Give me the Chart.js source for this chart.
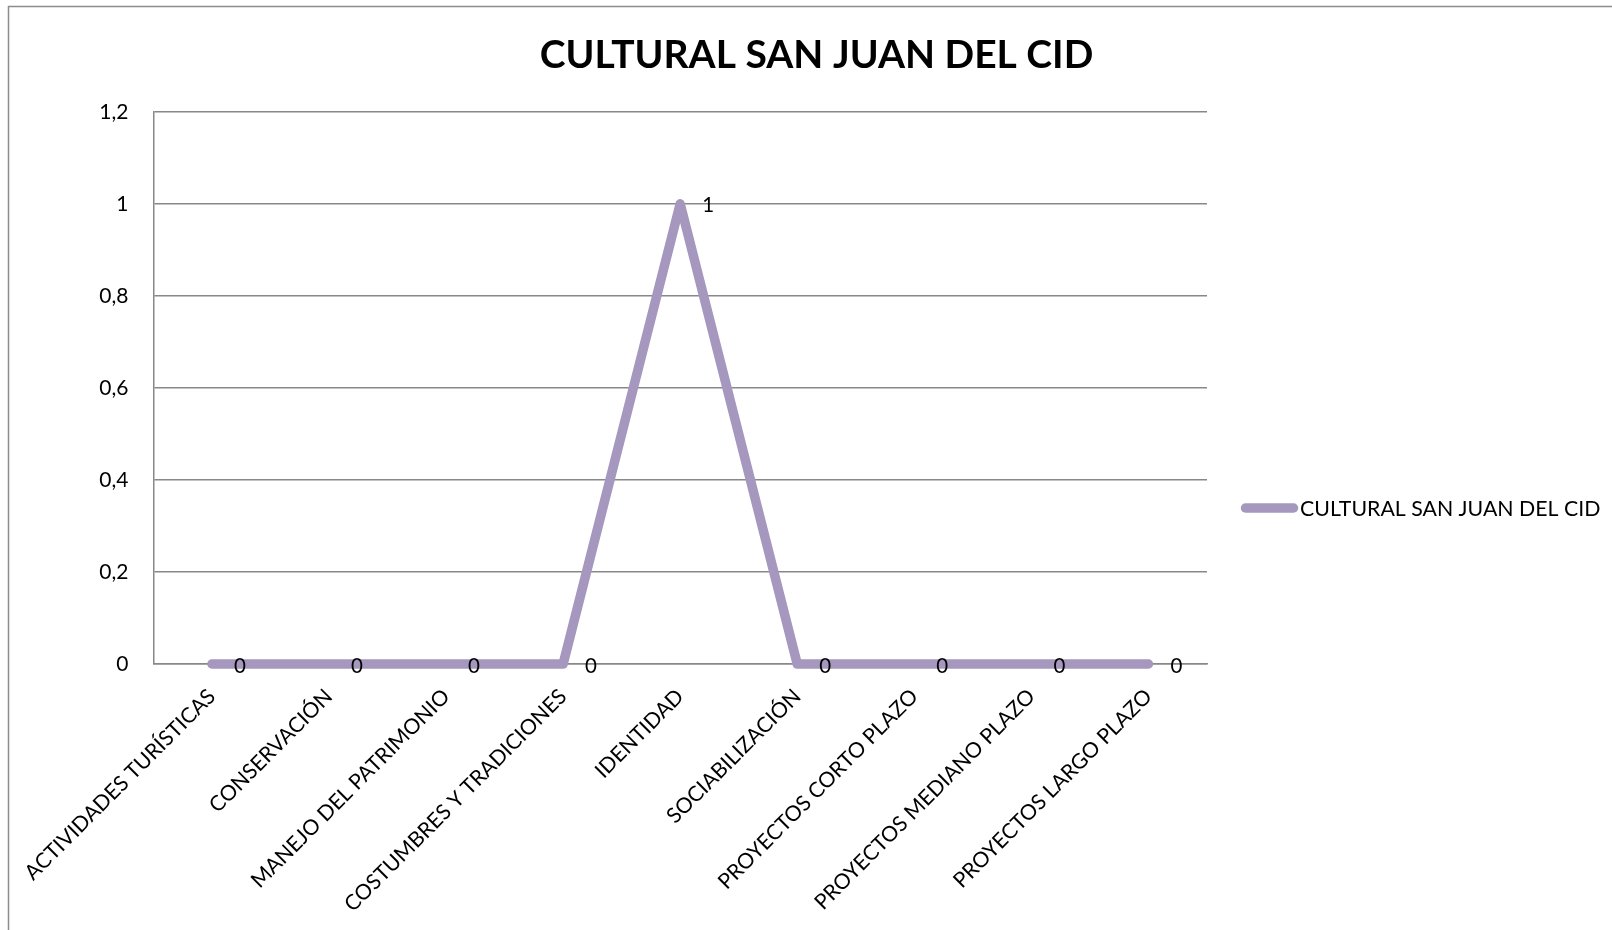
<!DOCTYPE html>
<html>
<head>
<meta charset="utf-8">
<title>CULTURAL SAN JUAN DEL CID</title>
<script src="https://cdn.jsdelivr.net/npm/chart.js@4"></script>
<style>
  html, body { margin: 0; padding: 0; background: #fff; }
  canvas { display: block; }
</style>
</head>
<body>
<canvas id="culturalChart" width="1612" height="930"></canvas>
<script>
const categories = ['ACTIVIDADES TURÍSTICAS', 'CONSERVACIÓN', 'MANEJO DEL PATRIMONIO', 'COSTUMBRES Y TRADICIONES', 'IDENTIDAD', 'SOCIABILIZACIÓN', 'PROYECTOS CORTO PLAZO', 'PROYECTOS MEDIANO PLAZO', 'PROYECTOS LARGO PLAZO'];
const seriesName = 'CULTURAL SAN JUAN DEL CID';
const seriesValues = [0, 0, 0, 0, 1, 0, 0, 0, 0];
const yTickLabels = ['0', '0,2', '0,4', '0,6', '0,8', '1', '1,2'];

const lineColor = '#A597BD';
const gridColor = '#888888';

// outer frame, only the left and top edges fall inside the picture
const chartFrame = {
  id: 'chartFrame',
  beforeDraw(chart) {
    const ctx = chart.ctx;
    ctx.save();
    ctx.strokeStyle = '#8c8c8c';
    ctx.lineWidth = 1.5;
    ctx.beginPath();
    ctx.moveTo(8.5, chart.height);
    ctx.lineTo(8.5, 6.5);
    ctx.lineTo(chart.width, 6.5);
    ctx.stroke();
    ctx.restore();
  }
};

// value next to every point
const pointLabels = {
  id: 'pointLabels',
  afterDatasetsDraw(chart) {
    const ctx = chart.ctx;
    const meta = chart.getDatasetMeta(0);
    ctx.save();
    ctx.font = '20.5px Lato';
    ctx.fillStyle = '#000';
    ctx.textAlign = 'left';
    ctx.textBaseline = 'middle';
    meta.data.forEach((pt, i) => {
      ctx.fillText(String(seriesValues[i]), pt.x + 22, pt.y + 2);
    });
    ctx.restore();
  }
};

// legend on the right, added as a layout box so it keeps its own column
const sideLegend = {
  id: 'sideLegend',
  beforeInit(chart) {
    const box = {
      position: 'right',
      weight: 10,
      fullSize: false,
      options: {},
      width: 0,
      height: 0,
      isHorizontal() { return false; },
      update(maxWidth, maxHeight) {
        this.width = 405;
        this.height = maxHeight;
      },
      draw() {
        const ds = chart.data.datasets[0];
        const ctx = chart.ctx;
        const y = 508;
        ctx.save();
        ctx.strokeStyle = ds.borderColor;
        ctx.lineWidth = 9.5;
        ctx.lineCap = 'round';
        ctx.beginPath();
        ctx.moveTo(this.left + 38.5, y);
        ctx.lineTo(this.left + 86.5, y);
        ctx.stroke();
        ctx.font = '21.3px Lato';
        ctx.fillStyle = '#000';
        ctx.textAlign = 'left';
        ctx.textBaseline = 'middle';
        ctx.fillText(ds.label, this.left + 93, y + 1);
        ctx.restore();
      }
    };
    Chart.layouts.addBox(chart, box);
  }
};

function drawChart() {
  Chart.defaults.font.family = 'Lato';
  const ctx = document.getElementById('culturalChart').getContext('2d');

  new Chart(ctx, {
    type: 'line',
    data: {
      labels: categories,
      datasets: [{
        label: seriesName,
        data: seriesValues,
        borderColor: lineColor,
        backgroundColor: lineColor,
        borderWidth: 9.5,
        borderCapStyle: 'round',
        borderJoinStyle: 'round',
        pointRadius: 0,
        pointHoverRadius: 0,
        tension: 0,
        fill: false,
        clip: false
      }]
    },
    options: {
      responsive: false,
      animation: false,
      devicePixelRatio: 1,
      layout: {
        padding: { left: 21 }
      },
      plugins: {
        legend: { display: false },
        tooltip: { enabled: false },
        title: {
          display: true,
          text: seriesName,
          color: '#000',
          font: { size: 39, weight: 'bold' },
          padding: { top: 32, bottom: 33 }
        }
      },
      scales: {
        x: {
          offset: true,
          grid: { display: false, drawTicks: false },
          border: { display: true, color: gridColor, width: 1.5 },
          ticks: {
            color: '#000',
            font: { size: 21.2 },
            maxRotation: 45,
            minRotation: 45,
            autoSkip: false,
            padding: 20
          },
          afterFit(scale) { scale.height = 266; }
        },
        y: {
          min: 0,
          max: 1.2,
          grid: { color: gridColor, lineWidth: 1.5, drawTicks: false },
          border: { color: gridColor, width: 1.5 },
          ticks: {
            stepSize: 0.2,
            color: '#000',
            font: { size: 21 },
            padding: 25,
            callback: (value, index) => yTickLabels[index]
          },
          afterFit(scale) { scale.width = 132; }
        }
      }
    },
    plugins: [chartFrame, pointLabels, sideLegend]
  });
}

if (document.fonts && document.fonts.load) {
  Promise.all([
    document.fonts.load('21px Lato'),
    document.fonts.load('bold 39px Lato')
  ]).then(drawChart, drawChart);
} else {
  drawChart();
}
</script>
</body>
</html>
